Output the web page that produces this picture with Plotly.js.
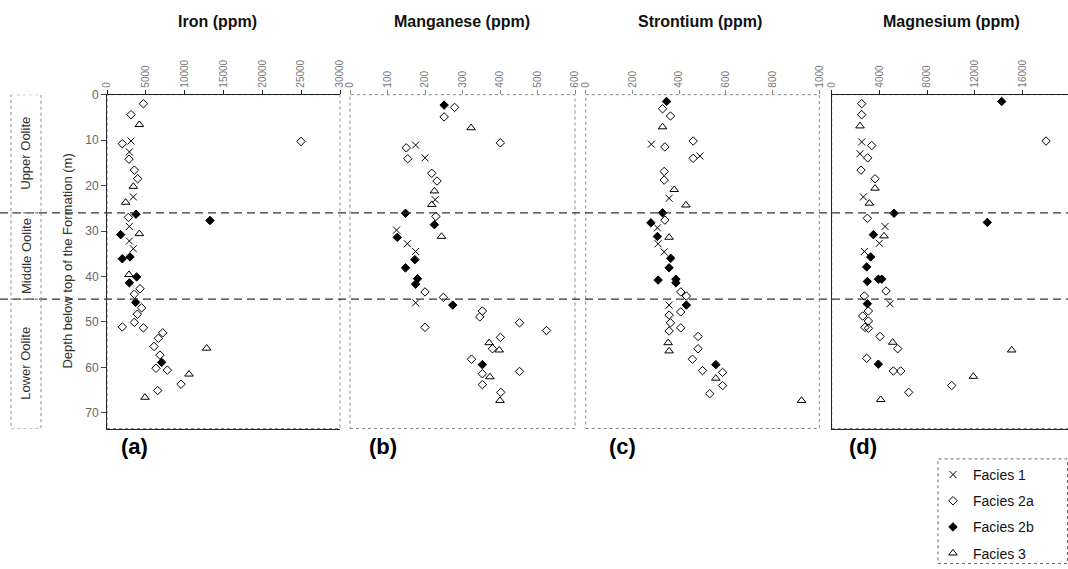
<!DOCTYPE html>
<html><head><meta charset="utf-8">
<script src="https://cdn.plot.ly/plotly-3.0.1.min.js"></script>
<style>html,body{margin:0;padding:0;overflow:hidden;background:#fff}#chart{width:1071px;height:569px}</style>
</head><body><div id="chart"></div><script>
// ---------------- DATA ----------------
const panelTitles = ['Iron (ppm)', 'Manganese (ppm)', 'Strontium (ppm)', 'Magnesium (ppm)'];
const panelLetters = ['(a)', '(b)', '(c)', '(d)'];
const faciesNames = ['Facies 1', 'Facies 2a', 'Facies 2b', 'Facies 3'];
const unitNames = ['Upper Oolite', 'Middle Oolite', 'Lower Oolite'];
const unitTops = [0, 26, 45];
const unitBases = [26, 45, 73.45];
const depthTicks = [0, 10, 20, 30, 40, 50, 60, 70];
const ironTicks = [0, 5000, 10000, 15000, 20000, 25000, 30000];
const mnTicks = [0, 100, 200, 300, 400, 500, 600];
const srTicks = [0, 200, 400, 600, 800, 1000];
const mgTicks = [0, 4000, 8000, 12000, 16000, 20000];

// Iron
const ironF1_depth = [10.2, 12.6, 22.5, 29.0, 32.2, 33.9];
const ironF1 = [3090, 2880, 3390, 2880, 2880, 3390];
const ironF2a_depth = [2.0, 4.4, 10.3, 10.8, 14.2, 16.6, 18.5, 27.0, 42.7, 43.9, 46.9, 48.3, 50.1, 51.1, 51.3, 52.4, 53.6, 55.4, 57.3, 60.2, 60.6, 63.7, 65.1];
const ironF2a = [4680, 3090, 24980, 1970, 2830, 3520, 3950, 2750, 4250, 3520, 4460, 3910, 3520, 1970, 4680, 7170, 6610, 6050, 6820, 6310, 7770, 9530, 6520];
const ironF2b_depth = [26.3, 27.7, 30.8, 35.7, 36.1, 40.1, 41.4, 45.7, 58.9];
const ironF2b = [3730, 13260, 1760, 2960, 1970, 3820, 2880, 3690, 7040];
const ironF3_depth = [6.6, 20.2, 23.7, 30.6, 39.6, 55.8, 61.5, 66.6];
const ironF3 = [4160, 3390, 2400, 4160, 2830, 12830, 10560, 4890];

// Manganese
const mnF1_depth = [11.1, 13.9, 23.1, 29.8, 32.8, 34.5, 45.8];
const mnF1 = [175, 200, 227, 124, 153, 175, 175];
const mnF2a_depth = [2.8, 4.9, 10.6, 11.7, 14.1, 17.3, 19.0, 26.8, 43.4, 44.6, 47.6, 48.9, 50.2, 51.2, 51.9, 53.4, 55.9, 58.2, 60.9, 61.4, 63.8, 65.5];
const mnF2a = [279, 251, 401, 150, 154, 218, 232, 229, 200, 249, 353, 346, 452, 200, 524, 401, 380, 324, 452, 353, 353, 402];
const mnF2b_depth = [2.3, 26.1, 28.6, 31.4, 36.3, 38.1, 40.5, 41.7, 46.3, 59.4];
const mnF2b = [251, 148, 225, 126, 173, 148, 180, 175, 274, 353];
const mnF3_depth = [7.3, 21.2, 24.2, 31.2, 54.6, 56.2, 62.1, 67.3];
const mnF3 = [323, 225, 218, 244, 371, 398, 373, 400];

// Strontium
const srF1_depth = [10.9, 13.5, 22.8, 29.3, 32.8, 34.6, 46.3];
const srF1 = [281, 489, 357, 307, 310, 336, 357];
const srF2a_depth = [3.1, 4.7, 10.2, 11.5, 14.0, 16.9, 18.8, 27.6, 43.4, 44.3, 47.8, 48.5, 50.2, 51.3, 52.0, 53.2, 55.9, 58.2, 60.7, 61.1, 64.0, 65.8];
const srF2a = [329, 363, 460, 339, 460, 336, 336, 339, 407, 431, 407, 357, 363, 407, 357, 481, 481, 457, 500, 586, 586, 531];
const srF2b_depth = [1.5, 26.0, 28.2, 31.2, 36.0, 38.1, 40.6, 40.8, 41.4, 46.3, 59.4];
const srF2b = [346, 329, 279, 307, 364, 357, 386, 310, 386, 431, 557];
const srF3_depth = [7.1, 20.9, 24.3, 31.4, 54.6, 56.4, 62.4, 67.3];
const srF3 = [329, 379, 429, 357, 353, 357, 557, 924];

// Magnesium
const mgF1_depth = [10.4, 13.0, 22.5, 29.0, 32.7, 34.5, 46.0];
const mgF1 = [2517, 2378, 2657, 4476, 4000, 2741, 4895];
const mgF2a_depth = [2.0, 4.4, 10.2, 11.2, 13.9, 16.6, 18.5, 27.2, 43.2, 44.3, 47.6, 48.7, 49.8, 51.2, 51.4, 53.2, 55.9, 58.0, 60.8, 60.8, 64.0, 65.5];
const mgF2a = [2517, 2517, 17986, 3357, 3021, 2462, 3636, 2993, 4559, 2741, 3077, 2601, 3077, 2797, 3077, 4056, 5538, 2937, 5175, 5790, 10070, 6462];
const mgF2b_depth = [1.5, 26.1, 28.1, 30.8, 35.7, 37.9, 40.6, 40.6, 41.1, 46.0, 59.3];
const mgF2b = [14266, 5231, 13063, 3497, 3273, 2937, 3916, 4196, 2993, 2993, 3916];
const mgF3_depth = [6.9, 20.6, 23.9, 31.1, 54.5, 56.2, 62.0, 67.1];
const mgF3 = [2378, 3636, 3161, 4392, 5119, 15105, 11888, 4112];

// ---------------- LAYOUT / STYLE ----------------
const W = 1071, H = 569;
const fx = v => v / W;
const fy = v => 1 - v / H;
const FONT = 'Liberation Sans, Arial, sans-serif';

const panels = [
  {depths: [ironF1_depth, ironF2a_depth, ironF2b_depth, ironF3_depth], vals: [ironF1, ironF2a, ironF2b, ironF3], ticks: ironTicks, range: [0, 30000], px: [107, 340], solid: true, titleX: 217, letterX: 119},
  {depths: [mnF1_depth, mnF2a_depth, mnF2b_depth, mnF3_depth], vals: [mnF1, mnF2a, mnF2b, mnF3], ticks: mnTicks, range: [0, 600], px: [350, 575], solid: false, titleX: 462, letterX: 367},
  {depths: [srF1_depth, srF2a_depth, srF2b_depth, srF3_depth], vals: [srF1, srF2a, srF2b, srF3], ticks: srTicks, range: [0, 1000], px: [585.7, 819.3], solid: false, titleX: 700, letterX: 607},
  {depths: [mgF1_depth, mgF2a_depth, mgF2b_depth, mgF3_depth], vals: [mgF1, mgF2a, mgF2b, mgF3], ticks: mgTicks, range: [0, 20000], px: [831.7, 1070], solid: true, titleX: 951, letterX: 847}
];

const markerStyles = [
  {symbol: 'x-thin-open', size: 7, color: '#000', line: {color: '#000', width: 1}},
  {symbol: 'diamond-open', size: 6.5, color: '#000', line: {color: '#000', width: 1}},
  {symbol: 'diamond', size: 6.5, color: '#000', line: {color: '#000', width: 1}},
  {symbol: 'triangle-up-open', size: 7.5, color: '#000', line: {color: '#000', width: 1}}
];

const TOP = 95.5, BOT = 432.3;
const yDomain = [fy(BOT), fy(TOP)];
const yRange = [73.45, 0];

const traces = [];
panels.forEach((p, i) => {
  const k = i === 0 ? '' : String(i + 1);
  faciesNames.forEach((name, j) => {
    traces.push({
      type: 'scatter', mode: 'markers',
      x: p.vals[j], y: p.depths[j],
      xaxis: 'x' + k, yaxis: 'y' + k,
      name: name, legendgroup: name,
      showlegend: i === 0,
      marker: markerStyles[j],
      cliponaxis: false,
      hoverinfo: 'x+y'
    });
  });
});

const layout = {
  width: W, height: H,
  margin: {l: 0, r: 0, t: 0, b: 0},
  paper_bgcolor: '#fff', plot_bgcolor: 'rgba(0,0,0,0)',
  font: {family: FONT, color: '#000'},
  showlegend: true,
  legend: {
    x: fx(933), y: fy(463), xanchor: 'left', yanchor: 'top',
    bgcolor: 'rgba(0,0,0,0)', borderwidth: 0,
    font: {family: FONT, size: 14, color: '#111'},
    traceorder: 'grouped', tracegroupgap: 5, itemwidth: 30
  },
  shapes: [], annotations: []
};

panels.forEach((p, i) => {
  const k = i === 0 ? '' : String(i + 1);
  const xa = {
    domain: [fx(p.px[0]), fx(p.px[1])],
    range: p.range, side: 'top', anchor: 'y' + k,
    tickmode: 'array', tickvals: p.ticks, ticktext: p.ticks.map(String),
    tickangle: -90, ticks: 'outside', ticklen: 4, tickcolor: p.solid ? '#222' : '#888',
    tickfont: {family: FONT, size: 10, color: '#777'},
    showgrid: false, zeroline: false,
    showline: p.solid, linecolor: '#222', linewidth: 1, mirror: p.solid,
    fixedrange: true
  };
  const ya = {
    domain: yDomain, range: yRange, anchor: 'x' + k,
    showgrid: false, zeroline: false, fixedrange: true,
    showline: p.solid, linecolor: '#222', linewidth: 1
  };
  if (i === 0) {
    Object.assign(ya, {
      tickmode: 'array', tickvals: depthTicks, ticktext: depthTicks.map(String),
      ticks: 'outside', ticklen: 5, tickcolor: '#444',
      tickfont: {family: FONT, size: 12, color: '#666'}
    });
  } else {
    Object.assign(ya, {showticklabels: false, ticks: ''});
  }
  layout['xaxis' + k] = xa;
  layout['yaxis' + k] = ya;

  // dotted frame
  layout.shapes.push({
    type: 'rect', xref: 'x' + k + ' domain', yref: 'y' + k + ' domain',
    x0: 0, x1: 1, y0: 0, y1: 1,
    line: {color: '#888', width: 1, dash: 'dot'}, layer: 'below'
  });

  // panel title
  layout.annotations.push({
    xref: 'paper', yref: 'paper', x: fx(p.titleX), y: fy(22),
    xanchor: 'center', yanchor: 'middle', showarrow: false,
    text: '<b>' + panelTitles[i] + '</b>',
    font: {family: FONT, size: 16, color: '#111'}
  });
  // panel letter
  layout.annotations.push({
    xref: 'paper', yref: 'paper', x: fx(p.letterX), y: fy(450),
    xanchor: 'left', yanchor: 'middle', showarrow: false,
    text: '<b>' + panelLetters[i] + '</b>',
    font: {family: FONT, size: 22, color: '#000'}
  });
});

// unit boundaries (dashed lines across whole figure)
[26, 45].forEach(d => {
  layout.shapes.push({
    type: 'line', xref: 'paper', yref: 'y', x0: 0, x1: 1, y0: d, y1: d,
    line: {color: '#333', width: 1.2, dash: '8px,5px'}, layer: 'above'
  });
});

// unit boxes and labels
unitNames.forEach((u, i) => {
  layout.shapes.push({
    type: 'rect', xref: 'paper', yref: 'y', x0: fx(11), x1: fx(41),
    y0: unitTops[i], y1: unitBases[i],
    line: {color: '#888', width: 1, dash: 'dot'}
  });
  layout.annotations.push({
    xref: 'paper', yref: 'y', x: fx(26), y: (unitTops[i] + unitBases[i]) / 2,
    xanchor: 'center', yanchor: 'middle', showarrow: false, textangle: -90,
    text: u, font: {family: FONT, size: 13, color: '#333'}
  });
});

// y-axis title
layout.annotations.push({
  xref: 'paper', yref: 'paper', x: fx(68), y: (yDomain[0] + yDomain[1]) / 2,
  xanchor: 'center', yanchor: 'middle', showarrow: false, textangle: -90,
  text: 'Depth below top of the Formation (m)',
  font: {family: FONT, size: 13, color: '#333'}
});

// legend box
layout.shapes.push({
  type: 'rect', xref: 'paper', yref: 'paper', x0: fx(938), x1: fx(1067.5),
  y0: fy(568.5), y1: fy(463),
  line: {color: '#666', width: 1, dash: 'dot'}
});

Plotly.newPlot('chart', traces, layout, {displayModeBar: false, staticPlot: true});
</script></body></html>
